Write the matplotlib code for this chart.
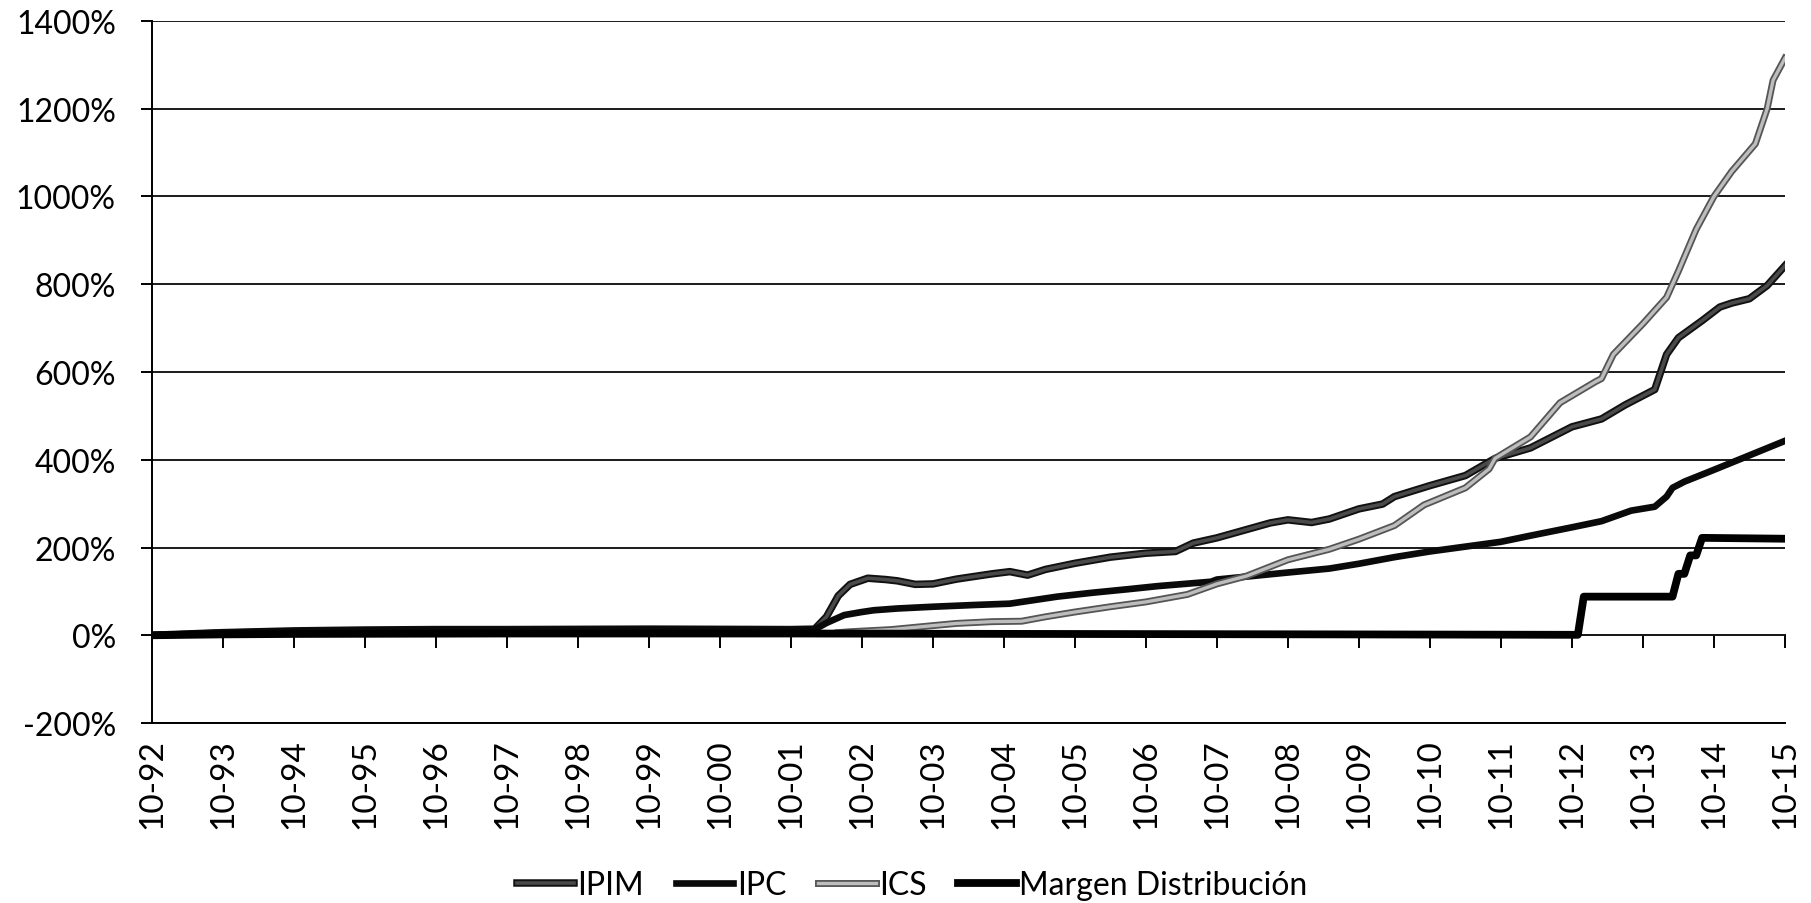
import numpy as np
import matplotlib
matplotlib.use("Agg")
import matplotlib.pyplot as plt
import matplotlib.patheffects as pe

# months counted from Oct 1992 (0) to Oct 2015 (276), values in %
tick_months = list(range(0, 277, 12))
tick_labels = [f"10-{(92 + i) % 100:02d}" for i in range(len(tick_months))]

ipim_m = [0, 12, 24, 36, 48, 60, 84, 108, 112, 114, 116, 118, 121, 124, 126, 129, 132, 136,
          142, 145, 148, 151, 156, 162, 168, 173, 176, 180, 189, 192, 196, 199, 204, 208,
          210, 216, 222, 227, 233, 240, 245, 249, 254, 255, 256, 258, 262, 265, 267, 270,
          273, 276]
ipim_v = [0, 6, 10, 12, 13, 13, 14, 13, 14, 42, 90, 116, 130, 127, 124, 116, 117, 128,
          140, 145, 137, 150, 164, 178, 187, 191, 210, 222, 256, 263, 257, 265, 288, 299,
          316, 341, 364, 403, 427, 475, 493, 525, 560, 600, 640, 678, 717, 748, 757, 767,
          797, 842]

ipc_m = [0, 12, 24, 36, 48, 60, 84, 108, 112, 114, 117, 120, 122, 126, 132, 139, 145, 148,
         153, 159, 165, 170, 179, 180, 192, 199, 204, 210, 216, 222, 228, 233, 240, 245,
         250, 254, 256, 257, 259, 264, 270, 276]
ipc_v = [0, 6, 9, 11, 12, 12, 13, 12, 13, 28, 46, 53, 57, 61, 65, 69, 72, 78,
         88, 97, 105, 112, 122, 127, 143, 152, 163, 178, 191, 202, 213, 227, 246, 260,
         284, 293, 316, 336, 350, 377, 410, 443]

ics_m = [116, 118, 125, 132, 136, 142, 147, 151, 156, 162, 168, 175, 180, 185, 192, 199,
         204, 210, 215, 222, 226, 227, 233, 238, 244, 245, 247, 252, 256, 258, 261, 264,
         267, 271, 273, 274, 276]
ics_v = [6, 8, 13, 22, 27, 31, 32, 42, 53, 65, 76, 93, 117, 135, 172, 196,
         219, 250, 297, 336, 379, 403, 452, 530, 578, 585, 640, 710, 770, 830, 925, 1000,
         1057, 1120, 1200, 1265, 1315]

margen_m = [0, 12, 24, 60, 108, 150, 200, 241, 242, 257, 258, 259, 260, 261, 262, 276]
margen_v = [0, 2, 3, 4, 4, 3, 2, 1, 88, 88, 140, 140, 182, 182, 222, 220]

series_names = ["IPIM", "IPC", "ICS", "Margen Distribución"]

fig = plt.figure(figsize=(18.11, 9.04), dpi=100)
ax = fig.add_axes([0.0839, 0.1991, 0.9017, 0.7766])

l_ipim, = ax.plot(ipim_m, ipim_v, color="#4a4a4a", lw=2.6,
                  path_effects=[pe.Stroke(linewidth=5.4, foreground="#111111"), pe.Normal()])
l_ipc, = ax.plot(ipc_m, ipc_v, color="#0a0a0a", lw=4.8)
l_ics, = ax.plot(ics_m, ics_v, color="#bdbdbd", lw=2.4,
                 path_effects=[pe.Stroke(linewidth=5.0, foreground="#555555"), pe.Normal()])
l_marg, = ax.plot(margen_m, margen_v, color="#000000", lw=5.6)

ax.set_xlim(0, 276)
ax.set_ylim(-200, 1400)
yt = list(range(-200, 1401, 200))
ax.set_yticks(yt, [f"{v}%" for v in yt])
ax.yaxis.grid(True, color="#1a1a1a", lw=1.4)
ax.set_axisbelow(True)
for s in ["top", "right"]:
    ax.spines[s].set_visible(False)
ax.spines["left"].set_linewidth(1.4)
ax.spines["bottom"].set_linewidth(1.4)

ax.tick_params(axis="y", direction="out", length=8, width=1.4, pad=18)
for t in ax.get_yticklabels():
    t.set_fontfamily("Lato")
    t.set_fontsize(23)

ax.set_xticks(tick_months, tick_labels, rotation=90)
ax.tick_params(axis="x", length=0, pad=11)
for t in ax.get_xticklabels():
    t.set_fontfamily(["Liberation Sans Narrow", "Lato"])
    t.set_fontsize(24)

# category axis crosses at 0%
sec = ax.secondary_xaxis(0.125)
sec.set_xticks(tick_months)
sec.tick_params(axis="x", direction="out", length=9, width=1.4, labelbottom=False, labeltop=False)
for s in sec.spines.values():
    s.set_linewidth(1.4)

fig.legend([l_ipim, l_ipc, l_ics, l_marg], series_names, loc="center",
           bbox_to_anchor=(0.5036, 0.02), ncol=4, frameon=False,
           prop={"family": "Lato", "size": 23}, handlelength=1.8,
           handletextpad=0.1, columnspacing=1.0)

fig.savefig("out.png", dpi=100)
